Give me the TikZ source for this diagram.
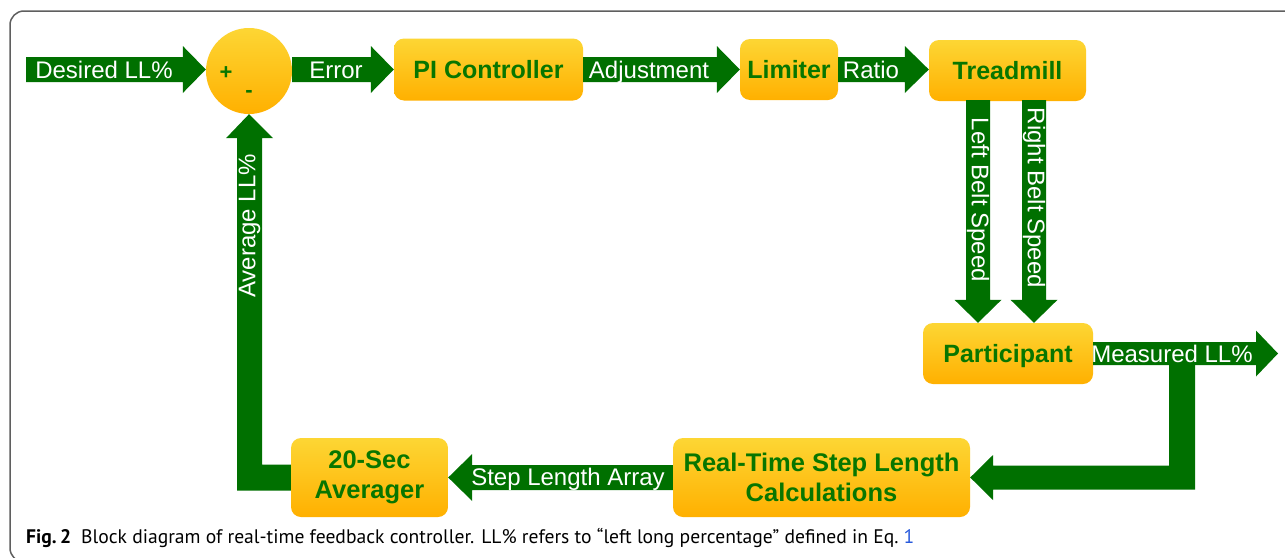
\documentclass[tikz,border=0pt]{standalone}
\usepackage{fontspec}
\setmainfont{Liberation Sans}
\newfontfamily\capfont{PT Sans}
\usetikzlibrary{calc}
\definecolor{agreen}{RGB}{0,112,0}
\definecolor{tgreen}{RGB}{8,118,0}
\definecolor{byel}{RGB}{253,214,52}
\definecolor{borg}{RGB}{255,176,0}
\definecolor{framegray}{RGB}{95,95,95}
\definecolor{eqblue}{RGB}{40,90,220}
\tikzset{
  blk/.style={draw=none, rounded corners=10pt, top color=byel, bottom color=borg,
    text=tgreen, font=\bfseries\fontsize{25}{30}\selectfont, align=center, inner sep=0pt},
  one/.style={text height=17.9pt, text depth=0pt},
  two/.style={font=\bfseries\fontsize{25.5}{30.5}\selectfont},
  arr/.style={fill=agreen, draw=none},
  lbl/.style={text=white, font=\fontsize{24}{29}\selectfont, inner sep=0pt, anchor=base},
  sgn/.style={text=tgreen, font=\bfseries\fontsize{22}{26}\selectfont, inner sep=0pt},
}
\newcommand\myfatarrow[5]{%
  \coordinate (hb) at ($(#2)!#5!(#1)$);
  \fill[arr] ($(#1)!#3!90:(#2)$) -- ($(hb)!#3!-90:(#1)$) -- ($(hb)!#4!-90:(#1)$) -- (#2)
    -- ($(hb)!#4!90:(#1)$) -- ($(hb)!#3!90:(#1)$) -- ($(#1)!#3!-90:(#2)$) -- cycle;}
\begin{document}
\begin{tikzpicture}[x=1pt,y=-1pt]
\useasboundingbox (0,0) rectangle (1285,557);
\fill[white] (0,0) rectangle (1285,557);
\draw[framegray, line width=1.5pt, rounded corners=14pt] (10,11) rectangle (1320,562);

% blocks
\node[circle, top color=byel, bottom color=borg, minimum size=86pt, inner sep=0pt] (sum) at (249,71) {};
\node[sgn] (plus) at (226,73) {+};
\node[sgn] (minus) at (249,94) {-};
\node[blk, one, minimum width=189pt, minimum height=62pt] (pi) at (488.5,69.5) {PI Controller};
\node[blk, one, minimum width=98pt, minimum height=61pt] (lim) at (789,69.5) {Limiter};
\node[blk, one, minimum width=157pt, minimum height=61pt] (tread) at (1007.5,70.5) {Treadmill};
\node[blk, one, minimum width=170pt, minimum height=61pt] (part) at (1008,353.5) {Participant};
\node[blk, two, minimum width=297pt, minimum height=79pt] (rt) at (821.5,477.5) {Real-Time Step Length\\Calculations};
\node[blk, two, minimum width=157pt, minimum height=79pt] (avg) at (369.5,477.5) {20-Sec\\Averager};

% top row connectors
\coordinate (din) at (26,69.5);
\coordinate (t1) at (din -| sum.west);
\coordinate (s1) at (din -| sum.east);
\coordinate (t2) at (din -| pi.west);
\coordinate (s3) at (din -| pi.east);
\coordinate (t3) at (din -| lim.west);
\coordinate (s4) at (din -| lim.east);
\coordinate (t4) at (din -| tread.west);
\myfatarrow{din}{t1}{12.5pt}{23.5pt}{23pt}
\myfatarrow{s1}{t2}{12.5pt}{23.5pt}{23pt}
\myfatarrow{s3}{t3}{12.5pt}{23.5pt}{23pt}
\myfatarrow{s4}{t4}{12.5pt}{23.5pt}{24pt}

% belt speeds
\coordinate (lb1) at (978,100);
\coordinate (lb2) at (lb1 |- part.north);
\coordinate (rb1) at (1034,100);
\coordinate (rb2) at (rb1 |- part.north);
\myfatarrow{lb1}{lb2}{12pt}{23.5pt}{23pt}
\myfatarrow{rb1}{rb2}{12pt}{23.5pt}{23pt}

% measured output and feedback branch
\coordinate (mout) at (1278,353.5);
\myfatarrow{part.east}{mout}{11.5pt}{23pt}{22pt}
\fill[arr] (1169,353.5) -- (1195,353.5) -- (1195,489.5) -- (993,489.5) -- (993,500)
  -- (rt.east) -- (993,455) -- (993,465.5) -- (1169,465.5) -- cycle;

% step length array
\myfatarrow{rt.west}{avg.east}{12.5pt}{23.5pt}{24pt}

% average feedback
\coordinate (ac) at (avg.west -| sum.south);
\fill[arr] ($(avg.west)+(0,-13)$) -- ($(ac)+(13,-13)$) -- ($(sum.south)+(13,24)$)
  -- ($(sum.south)+(24,24)$) -- (sum.south) -- ($(sum.south)+(-23,24)$)
  -- ($(sum.south)+(-12,24)$) -- ($(ac)+(-12,13)$) -- ($(avg.west)+(0,13)$) -- cycle;

% labels
\node[lbl] (l1) at (104,78) {Desired LL\%};
\node[lbl] (l2) at (336,78) {Error};
\node[lbl] (l3) at (649,78) {Adjustment};
\node[lbl] (l4) at (871,78) {Ratio};
\node[lbl, anchor=center, rotate=-90] (l5) at (978,200) {Left Belt Speed};
\node[lbl, anchor=center, rotate=-90] (l6) at (1034,198) {Right Belt Speed};
\node[lbl] (l7) at (1172,362) {Measured LL\%};
\node[lbl] (l8) at (568,485) {Step Length Array};
\node[lbl, anchor=center, rotate=90] (l9) at (249.5,226) {Average LL\%};

% caption
\node[anchor=base west, inner sep=0pt] (cap) at (26,543) {\capfont\fontsize{19.6}{23}\selectfont\textbf{Fig.\,2}\hspace{10pt}Block diagram of real-time feedback controller. LL\% refers to “left long percentage” defined in Eq.~\textcolor{eqblue}{1}};
\end{tikzpicture}
\end{document}
